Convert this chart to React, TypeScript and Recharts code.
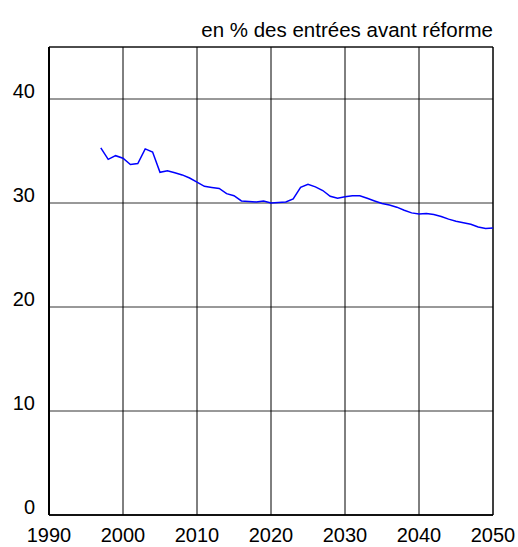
import React from "react";
import { LineChart, Line, XAxis, YAxis, CartesianGrid, ReferenceArea } from "recharts";

const years = [
  1997, 1998, 1999, 2000, 2001, 2002, 2003, 2004, 2005, 2006, 2007, 2008, 2009,
  2010, 2011, 2012, 2013, 2014, 2015, 2016, 2017, 2018, 2019, 2020, 2021, 2022,
  2023, 2024, 2025, 2026, 2027, 2028, 2029, 2030, 2031, 2032, 2033, 2034, 2035,
  2036, 2037, 2038, 2039, 2040, 2041, 2042, 2043, 2044, 2045, 2046, 2047, 2048,
  2049, 2050,
];
const values = [
  35.3, 34.2, 34.55, 34.3, 33.7, 33.8, 35.2, 34.9, 32.95, 33.1, 32.9, 32.7, 32.4,
  32.0, 31.6, 31.5, 31.4, 30.9, 30.7, 30.2, 30.15, 30.1, 30.2, 30.0, 30.05, 30.1,
  30.4, 31.5, 31.8, 31.55, 31.2, 30.65, 30.45, 30.6, 30.7, 30.7, 30.45, 30.2, 29.95,
  29.8, 29.6, 29.3, 29.05, 28.95, 29.0, 28.9, 28.7, 28.45, 28.25, 28.1, 27.95, 27.7,
  27.55, 27.6,
];
const xTicks = [1990, 2000, 2010, 2020, 2030, 2040, 2050];
const yTicks = [0, 10, 20, 30, 40];
const title = "en % des entrées avant réforme";

const data = years.map((y, i) => ({ year: y, v: values[i] }));

const FONT = "'Liberation Sans', Arial, sans-serif";

const YTick = (props: any) => (
  <text x={props.x} y={props.y - 1} textAnchor="end" fontSize={20} fontFamily={FONT} fill="#000">
    {props.payload.value}
  </text>
);
const XTick = (props: any) => (
  <text x={props.x} y={props.y} textAnchor="middle" fontSize={20} fontFamily={FONT} fill="#000">
    {props.payload.value}
  </text>
);

export default function App() {
  return (
    <div style={{ position: "absolute", left: 0, top: 0, width: 518, height: 547, background: "#fff" }}>
      <LineChart width={518} height={547} data={data} margin={{ top: 47, right: 25, bottom: 0, left: 0 }}>
        <CartesianGrid vertical={false} stroke="#333" strokeWidth={1} />
        <CartesianGrid horizontal={false} stroke="#000" strokeWidth={1} />
        <XAxis
          dataKey="year"
          type="number"
          domain={[1990, 2050]}
          ticks={xTicks}
          tickLine={false}
          axisLine={{ stroke: "#000", strokeWidth: 1.5 }}
          tickSize={0}
          tickMargin={27}
          height={32}
          tick={<XTick />}
          interval={0}
        />
        <YAxis
          type="number"
          domain={[0, 45]}
          ticks={yTicks}
          tickLine={false}
          axisLine={{ stroke: "#000", strokeWidth: 2 }}
          tickSize={0}
          tickMargin={14}
          width={49}
          tick={<YTick />}
          interval={0}
        />
        <ReferenceArea x1={1990} x2={2050} y1={0} y2={45} fill="none" stroke="#000" strokeWidth={1} ifOverflow="visible" />
        <Line dataKey="v" stroke="#0000ff" strokeWidth={1.5} dot={false} isAnimationActive={false} />
      </LineChart>
      <svg width={518} height={547} style={{ position: "absolute", left: 0, top: 0, pointerEvents: "none" }}>
        <text x={493} y={37} textAnchor="end" fontSize={20.5} fontFamily={FONT} fill="#000">
          {title}
        </text>
      </svg>
    </div>
  );
}
